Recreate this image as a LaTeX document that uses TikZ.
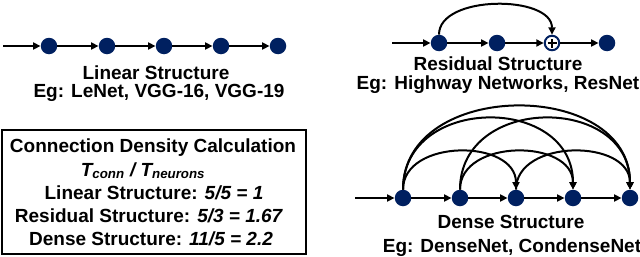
\documentclass[tikz,border=0pt]{standalone}
\usepackage{fontspec}
\setmainfont{Liberation Sans}
\usetikzlibrary{arrows.meta}
\definecolor{nodeblue}{RGB}{0,32,96}
\begin{document}
\begin{tikzpicture}[x=1pt,y=-1pt,
  neuron/.style={circle,fill=nodeblue,inner sep=0pt,minimum size=16.5pt},
  plusnode/.style={circle,draw=nodeblue,fill=white,line width=2pt,inner sep=0pt,minimum size=14.5pt},
  conn/.style={line width=2pt,-{Triangle[length=7.5pt,width=7pt]}},
  lbl/.style={font=\bfseries\fontsize{19}{22}\selectfont,anchor=base,inner sep=0pt}]
\useasboundingbox (0,0) rectangle (640,257);

% ---------- Linear ----------
\coordinate (lin) at (3,46);
\node[neuron] (l1) at (49,46) {};
\node[neuron] (l2) at (107,46) {};
\node[neuron] (l3) at (164,46) {};
\node[neuron] (l4) at (221,46) {};
\node[neuron] (l5) at (278,46) {};
\draw[conn] (lin) -- (l1);
\draw[conn] (l1) -- (l2);
\draw[conn] (l2) -- (l3);
\draw[conn] (l3) -- (l4);
\draw[conn] (l4) -- (l5);
\node[lbl] (lt1) at (156,79) {Linear Structure};
\node[lbl] (lt2) at (159,97) {Eg: LeNet, VGG-16, VGG-19};

% ---------- Residual ----------
\coordinate (rin) at (392,43);
\node[neuron] (r1) at (439,43) {};
\node[neuron] (r2) at (497,43) {};
\node[plusnode] (rp) at (552,43) {};
\node[neuron] (r4) at (607,43) {};
\draw[line width=2pt] ([xshift=-4.5pt]rp.center) -- ([xshift=4.5pt]rp.center);
\draw[line width=2pt] ([yshift=-4.5pt]rp.center) -- ([yshift=4.5pt]rp.center);
\draw[conn] (rin) -- (r1);
\draw[conn] (r1) -- (r2);
\draw[conn] (r2) -- (rp);
\draw[conn] (rp) -- (r4);
\draw[conn] (r1.north) .. controls +(0,-40) and +(0,-40) .. (rp.north);
\node[lbl] (rt1) at (498,70) {Residual Structure};
\node[lbl] (rt2) at (498,89) {Eg: Highway Networks, ResNet};

% ---------- Dense ----------
\coordinate (din) at (355,198);
\node[neuron] (d1) at (403,198) {};
\node[neuron] (d2) at (460,198) {};
\node[neuron] (d3) at (516,198) {};
\node[neuron] (d4) at (573,198) {};
\node[neuron] (d5) at (630,198) {};
\draw[conn] (din) -- (d1);
\draw[conn] (d1) -- (d2);
\draw[conn] (d2) -- (d3);
\draw[conn] (d3) -- (d4);
\draw[conn] (d4) -- (d5);
\draw[conn] (d1.north) .. controls +(0,-51) and +(0,-51) .. (d3.north);
\draw[conn] (d2.north) .. controls +(0,-51) and +(0,-51) .. (d4.north);
\draw[conn] (d3.north) .. controls +(0,-51) and +(0,-51) .. (d5.north);
\draw[conn] (d1.north) .. controls +(0,-95) and +(0,-95) .. (d4.north);
\draw[conn] (d2.north) .. controls +(0,-95) and +(0,-95) .. (d5.north);
\draw[conn] (d1.north) .. controls +(0,-111) and +(0,-111) .. (d5.north);
\node[lbl] (dt1) at (511,228) {Dense Structure};
\node[lbl] (dt2) at (512,252) {Eg: DenseNet, CondenseNet};

% ---------- Box ----------
\node[draw,line width=2.2pt,minimum width=304pt,minimum height=124pt,inner sep=0pt] (box) at (154,192) {};
\node[lbl] (b1) at (153,152) {Connection Density Calculation};
\node[lbl] (b2) at (143,176) {\itshape T\textsubscript{conn} / T\textsubscript{neurons}};
\node[lbl] (b3) at (154,199) {Linear Structure: \textit{5/5 = 1}};
\node[lbl] (b4) at (149,222) {Residual Structure: \textit{5/3 = 1.67}};
\node[lbl] (b5) at (151,245) {Dense Structure: \textit{11/5 = 2.2}};
\end{tikzpicture}
\end{document}
